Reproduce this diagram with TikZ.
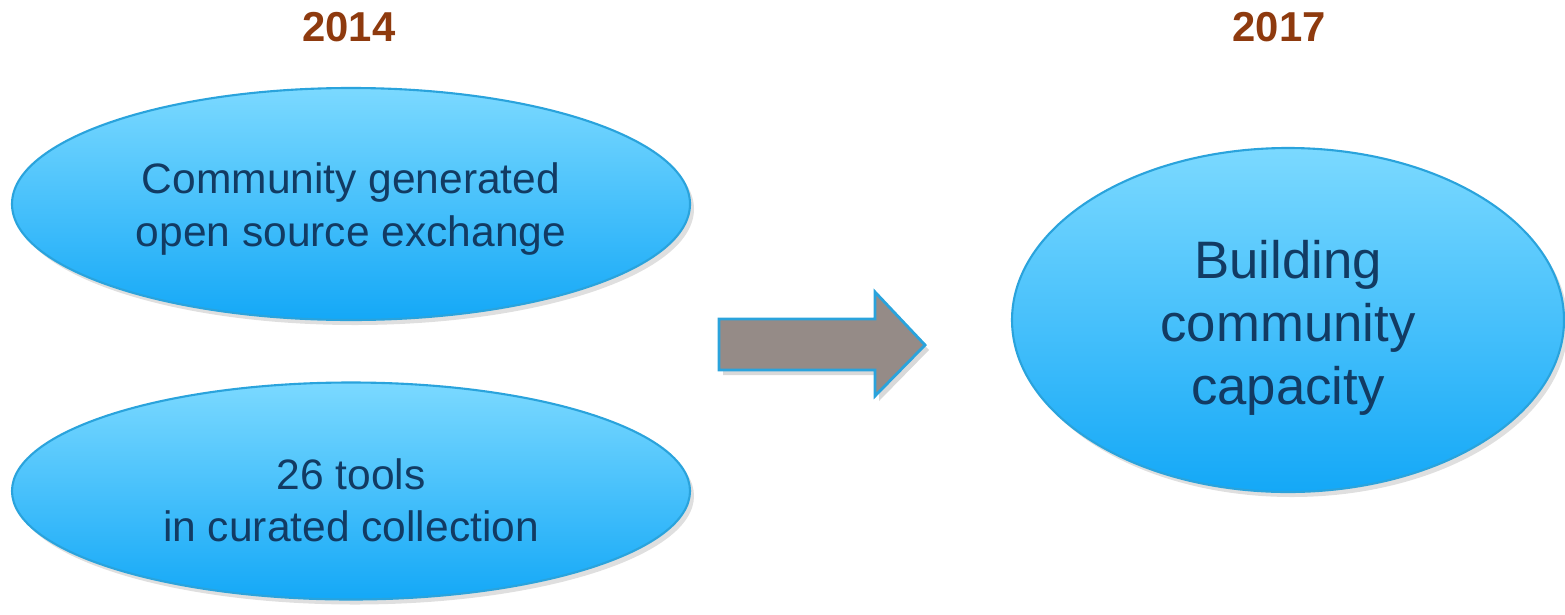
\documentclass[tikz,border=0pt]{standalone}
\usepackage{fontspec}
\setmainfont{Liberation Sans}
\usetikzlibrary{shapes.geometric,shadows}
\definecolor{yearbrown}{HTML}{8E3A0E}
\definecolor{navytext}{HTML}{123B63}
\definecolor{skytop}{HTML}{7BD9FF}
\definecolor{skybottom}{HTML}{14A8F7}
\definecolor{skyline}{HTML}{2AA3DC}
\definecolor{arrowgrey}{HTML}{958B87}
\tikzset{
  year/.style={text=yearbrown,font=\fontsize{11.9pt}{13pt}\selectfont\bfseries},
  bubble/.style={ellipse,draw=skyline,line width=0.6pt,top color=skytop,bottom color=skybottom,
    inner sep=0pt,
    drop shadow={opacity=0.25,shadow xshift=0.04cm,shadow yshift=-0.05cm}},
  bubbletext/.style={text=navytext,align=center,inner sep=0pt},
}
\begin{document}
\begin{tikzpicture}
        \useasboundingbox (0,0) rectangle (15.65,6.14);
        \node[year] (y2014) at (3.49,5.87) {2014};
        \node[year] (y2017) at (12.79,5.87) {2017};
        \node[bubble,minimum width=6.78cm,minimum height=2.32cm] (exchange) at (3.51,4.10) {};
        \node[bubble,minimum width=6.78cm,minimum height=2.17cm] (tools) at (3.51,1.23) {};
        \node[bubble,minimum width=5.52cm,minimum height=3.44cm] (capacity) at (12.88,2.94) {};

        \node[bubbletext,font=\fontsize{12.1pt}{14.8pt}\selectfont] (exchange-text) at ([yshift=-0.05cm]exchange.center) {Community generated\\open source exchange};
        \node[bubbletext,font=\fontsize{12.1pt}{14.8pt}\selectfont] (tools-text) at ([yshift=-0.095cm]tools.center) {26 tools\\in curated collection};
        \node[bubbletext,font=\fontsize{15pt}{17.9pt}\selectfont] (capacity-text) at ([yshift=-0.08cm]capacity.center) {Building\\community\\capacity};

        % big block arrow between the two years
        \filldraw[fill=arrowgrey,draw=skyline,line width=0.8pt,
          drop shadow={opacity=0.3,shadow xshift=0.04cm,shadow yshift=-0.05cm}]
        (7.19,2.95) -- (8.75,2.95) -- (8.75,3.22) -- (9.25,2.69) -- (8.75,2.18)
        -- (8.75,2.44) -- (7.19,2.44) -- cycle;
\end{tikzpicture}
\end{document}
